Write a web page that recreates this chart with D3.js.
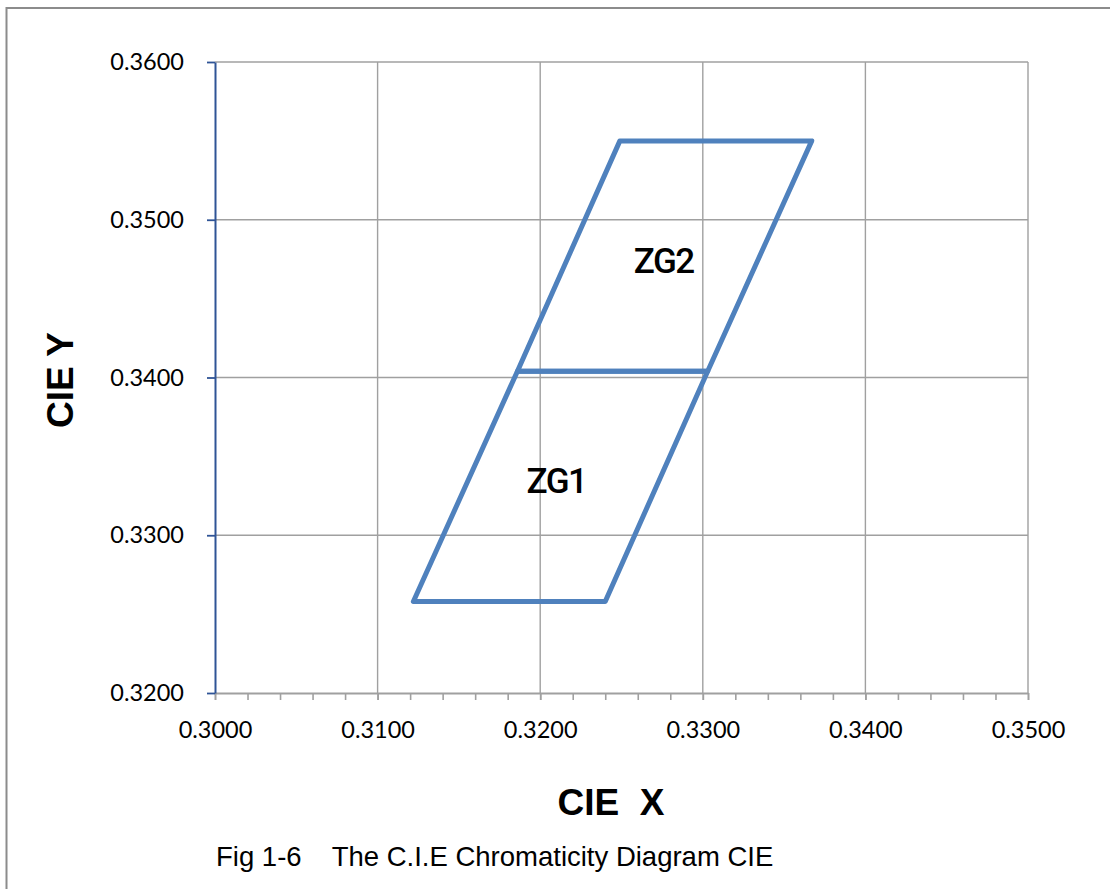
<!DOCTYPE html>
<html>
<head>
<meta charset="utf-8">
<script src="https://cdn.jsdelivr.net/npm/d3@7"></script>
<style>
  html, body { margin: 0; padding: 0; background: #fff; }
  svg { display: block; }
</style>
</head>
<body>
<svg id="chart" width="1110" height="889"></svg>
<script>
// ---- data ----
const xTicks = [0.30, 0.31, 0.32, 0.33, 0.34, 0.35];
const yTicks = [0.32, 0.33, 0.34, 0.35, 0.36];
const xMinorTicks = d3.range(0, 26).map(i => +(0.30 + i * 0.002).toFixed(3));
const zg1 = [[0.3122, 0.3258], [0.3240, 0.3258], [0.3303, 0.3404], [0.3186, 0.3404]];
const zg2 = [[0.3186, 0.3404], [0.3303, 0.3404], [0.3367, 0.3550], [0.3249, 0.3550]];
const zoneNames = ["ZG1", "ZG2"];
const zoneLabelX = [0.3210, 0.3276];
const zoneLabelY = [0.3327, 0.3466];
const xTitle = "CIE  X";
const yTitle = "CIE Y";
const caption = "Fig 1-6    The C.I.E Chromaticity Diagram CIE";

// ---- chart ----
const svg = d3.select("#chart");
const x = d3.scaleLinear().domain([0.30, 0.35]).range([215, 1028]);
const y = d3.scaleLinear().domain([0.32, 0.36]).range([693, 62]);

// outer frame
svg.append("rect")
  .attr("x", 6.5).attr("y", 8).attr("width", 1200).attr("height", 1000)
  .attr("fill", "none").attr("stroke", "#8c8c8c").attr("stroke-width", 2);

const gridColor = "#a0a0a0";
// vertical gridlines
svg.append("g").selectAll("line").data(xTicks.slice(1)).join("line")
  .attr("x1", d => x(d)).attr("x2", d => x(d))
  .attr("y1", y(0.36)).attr("y2", y(0.32))
  .attr("stroke", gridColor).attr("stroke-width", 1.4);
// horizontal gridlines
svg.append("g").selectAll("line").data(yTicks.slice(1)).join("line")
  .attr("x1", x(0.30)).attr("x2", x(0.35))
  .attr("y1", d => y(d)).attr("y2", d => y(d))
  .attr("stroke", gridColor).attr("stroke-width", 1.4);

// x axis minor ticks
const xMinor = svg.append("g").attr("transform", `translate(0,${y(0.32)})`)
  .call(d3.axisBottom(x).tickValues(xMinorTicks).tickSize(7).tickFormat(""));
xMinor.select(".domain").remove();
xMinor.selectAll("line").attr("stroke", gridColor).attr("stroke-width", 1.6);

// x axis
const xAxis = svg.append("g").attr("transform", `translate(0,${y(0.32)})`)
  .call(d3.axisBottom(x).tickValues(xTicks).tickSize(7).tickSizeOuter(0).tickPadding(21)
    .tickFormat(d3.format(".4f")));
xAxis.select(".domain").attr("stroke", gridColor).attr("stroke-width", 1.8);
xAxis.selectAll("line").attr("stroke", gridColor).attr("stroke-width", 1.6);
xAxis.selectAll("text").attr("font-family", "Lato, 'Open Sans', sans-serif")
  .attr("font-size", 23.5).attr("fill", "#000");

// y axis
const yAxis = svg.append("g").attr("transform", `translate(${x(0.30)},0)`)
  .call(d3.axisLeft(y).tickValues(yTicks).tickSize(8).tickSizeOuter(0).tickPadding(23)
    .tickFormat(d3.format(".4f")));
yAxis.select(".domain").attr("stroke", "#2f5496").attr("stroke-width", 2);
yAxis.selectAll("line").attr("stroke", "#2f5496").attr("stroke-width", 1.8);
yAxis.selectAll("text").attr("font-family", "Lato, 'Open Sans', sans-serif")
  .attr("font-size", 23.5).attr("fill", "#000");

// zones
const line = d3.line().x(d => x(d[0])).y(d => y(d[1])).curve(d3.curveLinearClosed);
svg.append("g").selectAll("path").data([zg1, zg2]).join("path")
  .attr("d", line)
  .attr("fill", "none").attr("stroke", "#4f81bd").attr("stroke-width", 5)
  .attr("stroke-linejoin", "round");

// zone labels
svg.append("g").selectAll("text").data(zoneNames).join("text")
  .attr("x", (d, i) => x(zoneLabelX[i])).attr("y", (d, i) => y(zoneLabelY[i]))
  .attr("text-anchor", "middle")
  .attr("font-family", "Roboto, sans-serif").attr("font-weight", 500)
  .attr("font-size", 35).attr("letter-spacing", -1.5).attr("fill", "#000")
  .text(d => d);

// titles
svg.append("text")
  .attr("x", 611).attr("y", 815).attr("text-anchor", "middle")
  .attr("font-family", "'Liberation Sans', Arial, sans-serif").attr("font-weight", "bold")
  .attr("font-size", 37).attr("fill", "#000")
  .style("white-space", "pre").text(xTitle);

svg.append("text")
  .attr("transform", "translate(73,380) rotate(-90)").attr("text-anchor", "middle")
  .attr("font-family", "'Liberation Sans', Arial, sans-serif").attr("font-weight", "bold")
  .attr("font-size", 37).attr("fill", "#000")
  .text(yTitle);

svg.append("text")
  .attr("x", 216).attr("y", 866)
  .attr("font-family", "'Liberation Sans', Arial, sans-serif")
  .attr("font-size", 27.5).attr("fill", "#000")
  .style("white-space", "pre").text(caption);
</script>
</body>
</html>
